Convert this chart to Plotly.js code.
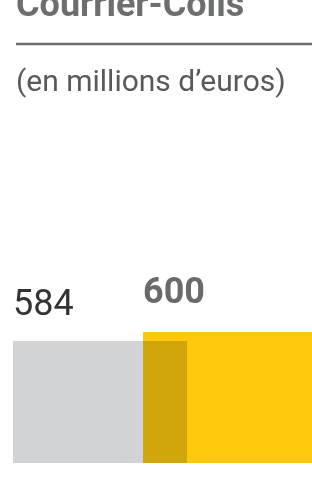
<!DOCTYPE html>
<html>
<head>
<meta charset="utf-8">
<script src="https://cdn.plot.ly/plotly-3.0.1.min.js"></script>
<style>
html,body{margin:0;padding:0;background:#fff;}
#chart{width:312px;height:485px;}
#chart .bars path{mix-blend-mode:multiply;}
</style>
</head>
<body>
<div id="chart"></div>
<script>
// Data
const categories = ["Année précédente", "Année en cours"];
const values = [584, 600];
const valueLabels = ["584", "600"];
const chartTitle = "Courrier-Colis";
const chartSubtitle = "(en millions d’euros)";

// Layout / style (not data)
const barCenters = [100, 227.5];
const barWidths = [174, 169];
const barColors = ["#d1d3d4", "#ffc90b"];
const labelColors = ["#333333", "#6a6a6a"];
const labelWeights = ["normal", "bold"];
const labelShifts = [15, 18];
const W = 312, H = 485, B = 22;
const plotH = H - B;
const py = p => (plotH - p) / plotH;   // pixel-from-top -> paper y

const traces = categories.map((c, i) => ({
  type: "bar",
  name: c,
  x: [barCenters[i]],
  y: [values[i]],
  width: [barWidths[i]],
  marker: {color: barColors[i], line: {width: 0}},
  hoverinfo: "skip",
  showlegend: false
}));

const annotations = [
  {text: "<b>" + chartTitle + "</b>", xref: "paper", yref: "paper", x: 14 / W, y: py(27), xanchor: "left", yanchor: "bottom",
   showarrow: false, font: {family: "Roboto", size: 36, color: "#6d6e70"}},
  {text: chartSubtitle, xref: "paper", yref: "paper", x: 14 / W, y: py(61), xanchor: "left", yanchor: "top",
   showarrow: false, font: {family: "Roboto", size: 30, color: "#58595b"}}
].concat(categories.map((c, i) => ({
  text: labelWeights[i] === "bold" ? "<b>" + valueLabels[i] + "</b>" : valueLabels[i],
  xref: "x", yref: "y",
  x: barCenters[i] - barWidths[i] / 2,
  y: values[i],
  xanchor: "left", yanchor: "bottom",
  yshift: labelShifts[i], xshift: -2,
  showarrow: false,
  font: {family: "Roboto", size: 36, color: labelColors[i]}
})));

const layout = {
  width: W, height: H,
  margin: {l: 0, r: 0, t: 0, b: B, pad: 0},
  paper_bgcolor: "#ffffff", plot_bgcolor: "#ffffff",
  barmode: "overlay",
  xaxis: {type: "linear", range: [0, W], visible: false, fixedrange: true},
  yaxis: {range: [367.1, 1190.2], visible: false, fixedrange: true},
  shapes: [{type: "line", xref: "paper", yref: "paper", x0: 16 / W, x1: 1, y0: py(44), y1: py(44),
            line: {color: "#6d6e70", width: 2.5}}],
  annotations: annotations
};

Plotly.newPlot("chart", traces, layout, {staticPlot: true, displayModeBar: false});
</script>
</body>
</html>
